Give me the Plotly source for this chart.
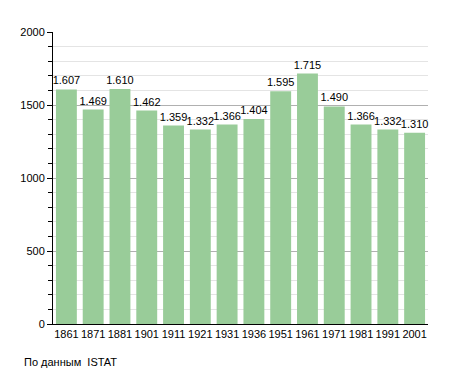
import plotly.graph_objects as go

years = ["1861", "1871", "1881", "1901", "1911", "1921", "1931", "1936", "1951", "1961", "1971", "1981", "1991", "2001"]
population = [1607, 1469, 1610, 1462, 1359, 1332, 1366, 1404, 1595, 1715, 1490, 1366, 1332, 1310]
labels = [f"{v:,}".replace(",", ".") for v in population]

ML, MT, PW, PH = 43, 24, 377, 292

fig = go.Figure()
fig.add_trace(go.Bar(
    x=years, y=population, text=labels, textposition="outside",
    constraintext="none",
    textfont=dict(size=11, color="black", family="Liberation Sans, Arial"),
    marker=dict(color="#99cc99", line=dict(width=0)),
    cliponaxis=False, width=0.78,
))
fig.update_layout(
    width=455, height=373,
    margin=dict(l=ML, r=455 - ML - PW, t=MT, b=373 - MT - PH),
    plot_bgcolor="white", paper_bgcolor="white",
    font=dict(family="Liberation Sans, Arial", size=11, color="black"),
    showlegend=False,
    xaxis=dict(type="category", showline=True, linecolor="black", linewidth=1,
               ticks="", showgrid=False, tickfont=dict(size=11)),
    yaxis=dict(range=[0, 2000], dtick=500, showline=True, linecolor="black", linewidth=1,
               ticks="outside", ticklen=5, tickcolor="black",
               showgrid=True, gridcolor="#b0b0b0", gridwidth=1,
               minor=dict(dtick=100, showgrid=True, gridcolor="#e4e4e4", ticks="outside",
                          ticklen=4, tickcolor="black"),
               tickfont=dict(size=11), zeroline=False),
    annotations=[dict(text="По данным  ISTAT", xref="paper", yref="paper",
                      x=(12 - ML) / PW, y=-(354 - (MT + PH)) / PH,
                      xanchor="left", yanchor="middle",
                      showarrow=False, font=dict(size=11))],
)
fig.write_html("out.html")
